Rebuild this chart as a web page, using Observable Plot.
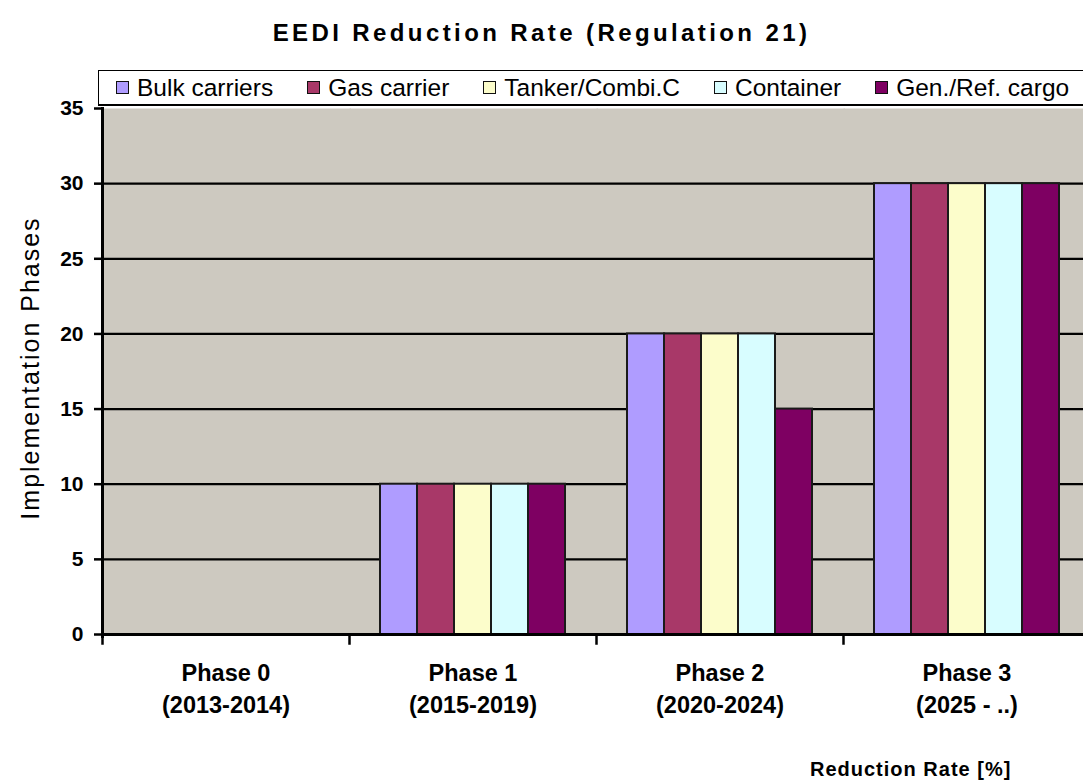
<!DOCTYPE html>
<html>
<head>
<meta charset="utf-8">
<script src="https://cdn.jsdelivr.net/npm/d3@7"></script>
<script src="https://cdn.jsdelivr.net/npm/@observablehq/plot@0.6"></script>
<style>
  html, body { margin: 0; padding: 0; background: #fff; overflow: hidden; }
  #wrap { position: relative; width: 1083px; height: 781px; overflow: hidden; font-family: "Liberation Sans", Arial, sans-serif; color: #000; }
  #chart { position: absolute; left: 0; top: 0; width: 1092px; }
  #chart svg { max-width: none !important; }
  #title { position: absolute; left: 0; top: 21px; width: 1083px; text-align: center; font-size: 24px; line-height: 24px; font-weight: bold; letter-spacing: 3.4px; }
  #legend { position: absolute; left: 98px; top: 70px; width: 982px; height: 33px; background: #fff; border: 1.5px solid #000; border-bottom-width: 2.5px; display: flex; align-items: center; padding-left: 17px; box-sizing: content-box; gap: 34px; white-space: nowrap; overflow: hidden; }
  .item { display: flex; align-items: center; font-size: 24.5px; line-height: 24px; }
  .sw { width: 11px; height: 11px; border: 1.5px solid #111; margin-right: 8px; flex: none; }
  #ytitle { position: absolute; left: 30px; top: 368px; transform: translate(-50%, -50%) rotate(-90deg); font-size: 25px; line-height: 25px; letter-spacing: 2px; white-space: nowrap; }
  #xtitle { position: absolute; left: 810px; top: 759px; font-size: 20px; line-height: 20px; font-weight: bold; letter-spacing: 1px; white-space: nowrap; }
</style>
</head>
<body>
<div id="wrap">
  <div id="chart"></div>
  <div id="title"></div>
  <div id="legend"></div>
  <div id="ytitle"></div>
  <div id="xtitle"></div>
</div>
<script>
// ---- data ----
const titleText = "EEDI Reduction Rate (Regulation 21)";
const yTitle = "Implementation Phases";
const xTitle = "Reduction Rate [%]";
const phases = ["Phase 0", "Phase 1", "Phase 2", "Phase 3"];
const phaseYears = ["(2013-2014)", "(2015-2019)", "(2020-2024)", "(2025 - ..)"];
const types = ["Bulk carriers", "Gas carrier", "Tanker/Combi.C", "Container", "Gen./Ref. cargo"];
const typeColors = ["#AF9CFF", "#A83868", "#FCFDCB", "#D8FDFF", "#7E0062"];
const bulkCarriers = [0, 10, 20, 30];
const gasCarrier = [0, 10, 20, 30];
const tankerCombi = [0, 10, 20, 30];
const container = [0, 10, 20, 30];
const genRefCargo = [0, 10, 15, 30];
const yTicks = [0, 5, 10, 15, 20, 25, 30, 35];

// ---- table ----
const seriesValues = [bulkCarriers, gasCarrier, tankerCombi, container, genRefCargo];
const rows = [];
phases.forEach((p, i) => {
  types.forEach((t, j) => rows.push({phase: p, type: t, value: seriesValues[j][i]}));
});

// ---- html text ----
document.getElementById("title").textContent = titleText;
document.getElementById("ytitle").textContent = yTitle;
document.getElementById("xtitle").textContent = xTitle;
const legend = document.getElementById("legend");
types.forEach((t, j) => {
  const it = document.createElement("div");
  it.className = "item";
  const sw = document.createElement("span");
  sw.className = "sw";
  sw.style.background = typeColors[j];
  const tx = document.createElement("span");
  tx.textContent = t;
  it.appendChild(sw); it.appendChild(tx);
  legend.appendChild(it);
});

// ---- plot ----
const W = 1092, H = 781, mTop = 108, mBottom = 147, mLeft = 100, mRight = 1;
const innerH = H - mTop - mBottom;
const chart = Plot.plot({
  width: W,
  height: H,
  marginTop: mTop,
  marginBottom: mBottom,
  marginLeft: mLeft,
  marginRight: mRight,
  style: {fontFamily: "'Liberation Sans', Arial, sans-serif", background: "transparent", color: "#000", overflow: "visible", maxWidth: "none"},
  fx: {domain: phases, padding: 0},
  x: {domain: types, paddingInner: 0, paddingOuter: 0.76, axis: null},
  y: {domain: [0, 35], range: [H - mBottom, mTop]},
  color: {domain: types, range: typeColors},
  marks: [
    Plot.frame({fill: "#CDC9C0", stroke: null, insetRight: -1.5}),
    Plot.ruleY(yTicks.filter(v => v > 0 && v < 35), {stroke: "#000", strokeWidth: 2.2}),
    Plot.barY(rows, {fx: "phase", x: "type", y: "value", fill: "type", stroke: "#1a1a1a", strokeWidth: 2}),
    Plot.ruleY([0], {stroke: "#000", strokeWidth: 3}),
    Plot.frame({anchor: "left", stroke: "#000", strokeWidth: 2.5, insetTop: innerH, insetBottom: -9}),
    Plot.frame({anchor: "left", facetAnchor: "left", stroke: "#000", strokeWidth: 3, insetBottom: -2}),
    Plot.axisY({ticks: yTicks, tickSize: 8, tickPadding: 11, fontSize: 21, fontWeight: "bold", stroke: "#000", strokeWidth: 2.5, label: null}),
    Plot.axisFx({anchor: "bottom", tickSize: 0, tickPadding: 24, fontSize: 23.5, fontWeight: "bold", lineHeight: 1.36, label: null,
      tickFormat: (d) => d + "\n" + phaseYears[phases.indexOf(d)]})
  ]
});
document.getElementById("chart").appendChild(chart);
</script>
</body>
</html>
